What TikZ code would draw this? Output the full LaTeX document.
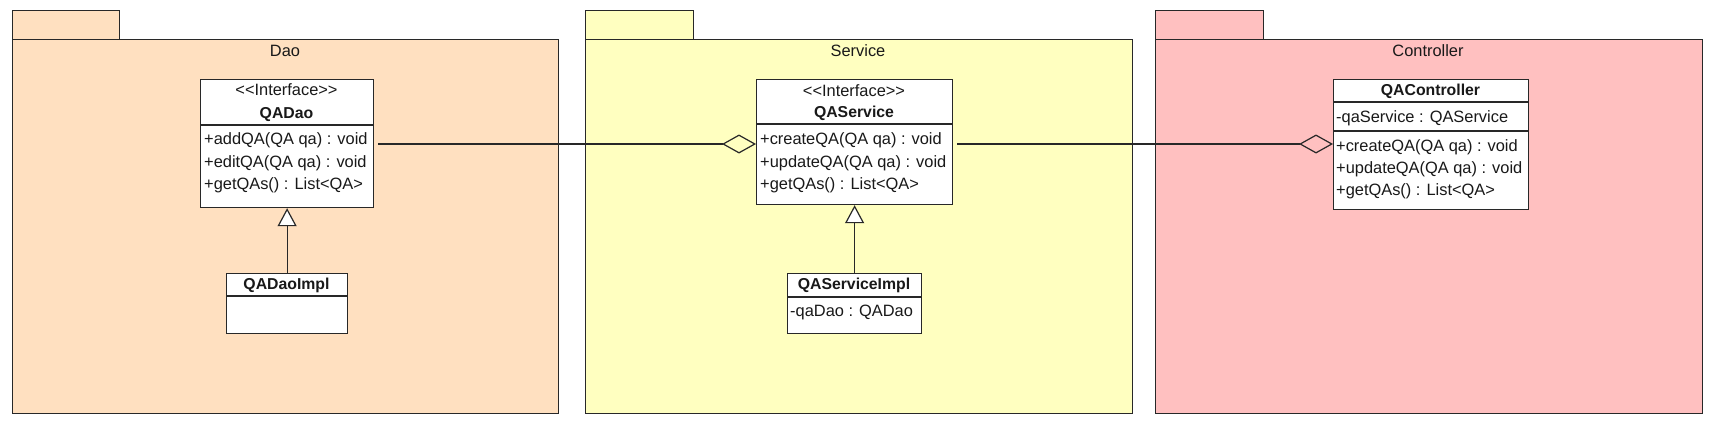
\documentclass[tikz,border=0pt]{standalone}
\usepackage{fontspec}
\setmainfont{Liberation Sans}[Ligatures=TeXOff]
\usetikzlibrary{arrows.meta}
\definecolor{daofill}{RGB}{255,224,192}
\definecolor{svcfill}{RGB}{255,255,192}
\definecolor{ctlfill}{RGB}{255,192,192}
\definecolor{edgec}{RGB}{40,40,40}
\definecolor{txtc}{RGB}{25,25,25}
\tikzset{
  pkg/.style={draw=edgec, line width=1.2pt, anchor=north west, inner sep=0},
  cls/.style={draw=edgec, fill=white, line width=1.2pt, anchor=north west, inner sep=0},
  txt/.style={inner sep=0, text height=11.5pt, text depth=3.5pt, font=\fontsize{16.4}{18}\selectfont, text=txtc},
  ttl/.style={txt, font=\fontsize{15.8}{18}\selectfont\bfseries},
  sep/.style={draw=edgec, line width=1.2pt},
  conn/.style={draw=edgec, line width=1.2pt},
  agg/.style={conn, -{Diamond[open, length=34pt, width=19pt]}},
  gen/.style={conn, -{Triangle[fill=white, length=18pt, width=19pt]}}
}
\begin{document}
\begin{tikzpicture}[x=1pt,y=-1pt]
\useasboundingbox (0,0) rectangle (1715,431);
% packages
\node[pkg, fill=daofill, minimum width=107pt, minimum height=29pt] (daotab) at (12,10) {};
\node[pkg, fill=daofill, minimum width=546pt, minimum height=374pt] (daopkg) at (12,39) {};
\node[txt] (daolbl) at (285,52) {Dao};
\node[pkg, fill=svcfill, minimum width=108pt, minimum height=29pt] (svctab) at (585,10) {};
\node[pkg, fill=svcfill, minimum width=547pt, minimum height=374pt] (svcpkg) at (585,39) {};
\node[txt] (svclbl) at (858,52) {Service};
\node[pkg, fill=ctlfill, minimum width=108pt, minimum height=29pt] (ctltab) at (1155,10) {};
\node[pkg, fill=ctlfill, minimum width=547pt, minimum height=374pt] (ctlpkg) at (1155,39) {};
\node[txt] (ctllbl) at (1428,52) {Controller};

% QADao
\node[cls, minimum width=173pt, minimum height=128pt] (qadao) at (200,79) {};
\draw[sep] (qadao.west |- 0,125) -- (qadao.east |- 0,125);
\node[txt] (qadaost) at (286.5,91) {<<Interface>>};
\node[ttl] (qadaot) at (286.5,114) {QADao};
\node[txt, anchor=west] (qadaoo1) at (204,140) {+addQA(QA qa) : void};
\node[txt, anchor=west] (qadaoo2) at (204,163) {+editQA(QA qa) : void};
\node[txt, anchor=west] (qadaoo3) at (204,185) {+getQAs() : List<QA>};

% QADaoImpl
\node[cls, minimum width=121pt, minimum height=60pt] (qadaoimpl) at (226,273) {};
\draw[sep] (qadaoimpl.west |- 0,296) -- (qadaoimpl.east |- 0,296);
\node[ttl] (qadaoimplt) at (286.5,285) {QADaoImpl};

% QAService
\node[cls, minimum width=196pt, minimum height=125pt] (qasvc) at (756,79) {};
\draw[sep] (qasvc.west |- 0,124) -- (qasvc.east |- 0,124);
\node[txt] (qasvcst) at (854,92) {<<Interface>>};
\node[ttl] (qasvct) at (854,113) {QAService};
\node[txt, anchor=west] (qasvco1) at (760,140) {+createQA(QA qa) : void};
\node[txt, anchor=west] (qasvco2) at (760,163) {+updateQA(QA qa) : void};
\node[txt, anchor=west] (qasvco3) at (760,185) {+getQAs() : List<QA>};

% QAServiceImpl
\node[cls, minimum width=134pt, minimum height=60pt] (qasvcimpl) at (787,273) {};
\draw[sep] (qasvcimpl.west |- 0,297) -- (qasvcimpl.east |- 0,297);
\node[ttl] (qasvcimplt) at (854,285) {QAServiceImpl};
\node[txt, anchor=west] (qasvcimpla) at (790,312) {-qaDao : QADao};

% QAController
\node[cls, minimum width=195pt, minimum height=130pt] (qactl) at (1333,79) {};
\draw[sep] (qactl.west |- 0,102) -- (qactl.east |- 0,102);
\draw[sep] (qactl.west |- 0,131) -- (qactl.east |- 0,131);
\node[ttl] (qactlt) at (1430.5,91) {QAController};
\node[txt, anchor=west] (qactla) at (1336,118) {-qaService : QAService};
\node[txt, anchor=west] (qactlo1) at (1336,147) {+createQA(QA qa) : void};
\node[txt, anchor=west] (qactlo2) at (1336,169) {+updateQA(QA qa) : void};
\node[txt, anchor=west] (qactlo3) at (1336,191) {+getQAs() : List<QA>};

% connectors
\draw[agg] ([xshift=4pt]qadao.east |- 0,144) -- (qasvc.west |- 0,144);
\draw[agg] ([xshift=4pt]qasvc.east |- 0,144) -- (qactl.west |- 0,144);
\draw[gen] (qadaoimpl.north) -- (qadaoimpl.north |- qadao.south);
\draw[gen] (qasvcimpl.north) -- (qasvcimpl.north |- qasvc.south);
\end{tikzpicture}
\end{document}
